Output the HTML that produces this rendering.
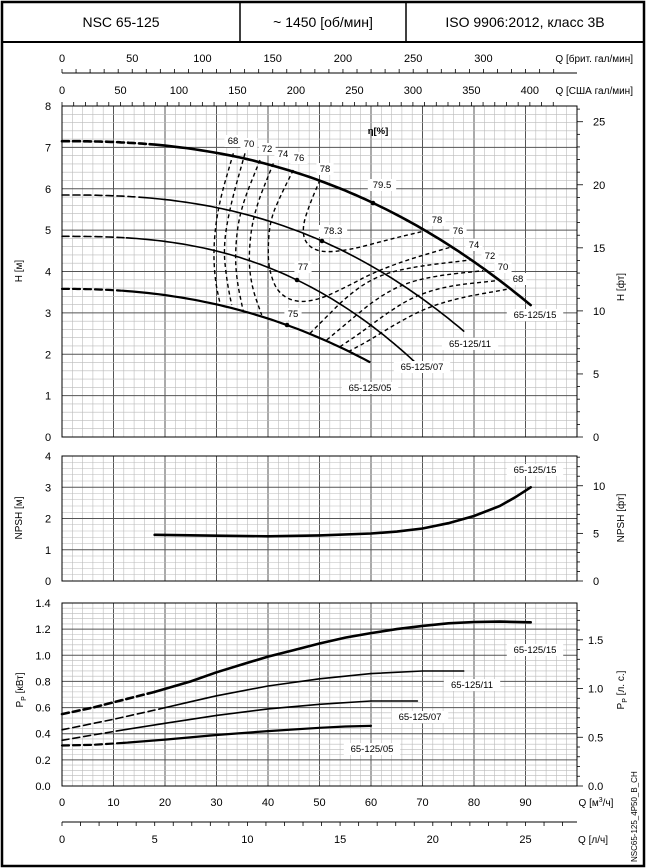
<!DOCTYPE html>
<html><head><meta charset="utf-8"><style>
body{margin:0;background:#fff}
svg{display:block;font-family:"Liberation Sans",sans-serif}
</style></head><body>
<svg id="s" width="646" height="868" xmlns="http://www.w3.org/2000/svg"></svg>
<script>
const S=document.getElementById('s');let h='';
const X0=62,PX=5.15,X1=577;
const qx=q=>X0+q*PX;
function ln(x1,y1,x2,y2,c,w,d){h+=`<line x1="${x1}" y1="${y1}" x2="${x2}" y2="${y2}" stroke="${c}" stroke-width="${w}"${d?` stroke-dasharray="${d}"`:''}/>`;}
function tx(x,y,t,o){o=o||{};h+=`<text x="${x}" y="${y}" font-size="${o.fs||11}" text-anchor="${o.a||'middle'}"${o.b?' font-weight="bold"':''}${o.r?` transform="rotate(-90 ${x} ${y})"`:''}>${t}</text>`;}
function lbl(x,y,t){let w=t.length*5.6+6;h+=`<rect x="${x-w/2}" y="${y-9}" width="${w}" height="12" fill="#fff"/>`;tx(x,y,t,{fs:9.5});}
function grid(yt,yb,nMaj,nMin){
 for(let q=0;q<=100;q+=2){ln(qx(q),yt,qx(q),yb,q%10==0?'#555':'#bbb',q%10==0?1:0.6);}
 const n=nMaj*nMin;for(let i=0;i<=n;i++){let y=yt+(yb-yt)*i/n;ln(X0,y,X1,y,i%nMin==0?'#555':'#bbb',i%nMin==0?1:0.6);}
 h+=`<rect x="${X0}" y="${yt}" width="${X1-X0}" height="${yb-yt}" fill="none" stroke="#000" stroke-width="1"/>`;
}
function path(pts,w,d){h+=`<path d="M${pts.map(p=>p[0].toFixed(1)+','+p[1].toFixed(1)).join(' L')}" fill="none" stroke="#000" stroke-width="${w}" stroke-linecap="round"${d?` stroke-dasharray="${d}"`:''}/>`;}
h+=`<rect x="2" y="2" width="642" height="864" fill="none" stroke="#000" stroke-width="2.5"/>`;
ln(2,42,644,42,'#000',2);ln(240,2,240,42,'#000',1.5);ln(406,2,406,42,'#000',1.5);
tx(121,27,'NSC 65-125',{fs:14});tx(323,27,'~ 1450 [об/мин]',{fs:14});tx(525,27,'ISO 9906:2012, класс 3B',{fs:14});
ln(X0,73,X1,73,'#000',1);
for(let g=0;g<=350;g+=10){let x=qx(g/3.666);if(x<=X1)ln(x,73,x,69,'#000',0.8);}
for(let g=0;g<=300;g+=50)tx(qx(g/3.666),62,g);
tx(633,62,'Q [брит. гал/мин]',{a:'end',fs:10});
for(let g=0;g<=420;g+=10){let x=qx(g/4.403);if(x<=X1)ln(x,106,x,102,'#000',0.8);}
for(let g=0;g<=400;g+=50)tx(qx(g/4.403),94,g);
tx(633,94,'Q [США гал/мин]',{a:'end',fs:10});
const HT=106,HB=437,hy=v=>HB-(HB-HT)*v/8;
grid(HT,HB,8,5);
for(let v=0;v<=8;v++)tx(48,hy(v)+4,v);
const fy=v=>HB-v*0.3048*(HB-HT)/8;
for(let f=0;f<=26;f++){ln(X1,fy(f),X1+(f%5==0?6:3),fy(f),'#000',0.8);}
for(let f=0;f<=25;f+=5)tx(593,fy(f)+4,f,{a:'start'});
tx(22,271,'H [м]',{r:1,fs:10});tx(624,287,'H [фт]',{r:1,fs:10});
// [H0, dH at Qr, Qr, p, Qend, Qdash, width]
const HC=[[7.15,1.5,60.5,2.38,91,17,2.6],[5.85,1.12,50.6,2.49,78,15,1.6],[4.85,1.06,45.7,2.6,69,12.5,1.6],[3.58,0.88,43.8,2.25,60,11.7,2.2]];
const Hf=(c,q)=>c[0]-c[1]*Math.pow(q/c[2],c[3]);
HC.forEach(c=>{let a=[],b=[];for(let q=0;q<=c[5];q+=0.5)a.push([qx(q),hy(Hf(c,q))]);for(let q=c[5];q<=c[4]+0.01;q+=1)b.push([qx(q),hy(Hf(c,q))]);path(a,c[6],'7,4');path(b,c[6]);});
const Z=p=>p.map(v=>[200+v[0]/3,120+v[1]/3]);
const E=[
[[100,100],[55,255],[40,380],[45,480],[60,550]],
[[135,100],[90,260],[70,380],[80,480],[95,555]],
[[180,120],[120,270],[105,390],[110,480],[130,575]],
[[220,130],[160,280],[145,410],[155,500],[185,585]],
[[280,150],[245,220],[210,300],[203,400],[210,460],[235,520],[290,548],[360,538],[440,500],[520,458],[620,420],[750,382]],
[[360,180],[330,250],[307,320],[315,370],[360,398],[450,390],[560,360],[665,335]],
[[330,640],[380,590],[440,530],[520,473],[620,443],[810,420]],
[[380,660],[440,610],[520,543],[600,495],[700,468],[850,452]],
[[420,680],[480,640],[560,580],[640,530],[740,498],[890,482]],
[[445,695],[510,660],[590,610],[680,563],[780,533],[920,508]]];
E.forEach(e=>{let p=Z(e);let d=`M${p[0][0]},${p[0][1]}`;for(let i=1;i<p.length;i++){let m=[(p[i-1][0]+p[i][0])/2,(p[i-1][1]+p[i][1])/2];d+=` Q${p[i-1][0]},${p[i-1][1]} ${m[0]},${m[1]}`;}d+=` L${p[p.length-1][0]},${p[p.length-1][1]}`;h+=`<path d="${d}" fill="none" stroke="#000" stroke-width="1.4" stroke-dasharray="4,3"/>`;});
[[373,203],[322,241],[297,280],[287,325]].forEach(p=>h+=`<circle cx="${p[0]}" cy="${p[1]}" r="2.3"/>`);
[[233,144,'68'],[249,147,'70'],[267,152,'72'],[283,157,'74'],[299,161,'76'],[325,172,'78'],[382,188,'79.5'],[333,234,'78.3'],[303,270,'77'],[293,317,'75'],[437,223,'78'],[458,234,'76'],[474,248,'74'],[490,259,'72'],[503,270,'70'],[518,282,'68'],
[535,318,'65-125/15'],[470,347,'65-125/11'],[422,370,'65-125/07'],[370,391,'65-125/05']].forEach(l=>lbl(l[0],l[1],l[2]));
tx(378,134,'η[%]',{b:1,fs:9.5});
const NT=456,NB=581,ny=v=>NB-(NB-NT)*v/4;
grid(NT,NB,4,5);
for(let v=0;v<=4;v++)tx(48,ny(v)+4,v);
const nf=v=>NB-v*0.3048*(NB-NT)/4;
for(let f=0;f<=13;f++)ln(X1,nf(f),X1+(f%5==0?6:3),nf(f),'#000',0.8);
for(let f=0;f<=10;f+=5)tx(593,nf(f)+4,f,{a:'start'});
tx(22,518,'NPSH [м]',{r:1,fs:10});tx(624,518,'NPSH [фт]',{r:1,fs:10});
const NP=[[18,1.48],[30,1.45],[40,1.43],[50,1.46],[60,1.52],[65,1.58],[70,1.68],[75,1.85],[80,2.08],[85,2.4],[88,2.68],[91,3.0]];
path(NP.map(p=>[qx(p[0]),ny(p[1])]),2.6);
lbl(535,473,'65-125/15');
const PT=603,PB=786,py=v=>PB-(PB-PT)*v/1.4;
grid(PT,PB,7,5);
for(let v=0;v<=7;v++)tx(43,py(v*0.2)+4,(v*0.2).toFixed(1));
const hf=v=>PB-v*0.7457*(PB-PT)/1.4;
for(let f=0;f<=18;f++)ln(X1,hf(f/10),X1+(f%5==0?6:3),hf(f/10),'#000',0.8);
for(let f=0;f<=3;f++)tx(588,hf(f*0.5)+4,(f*0.5).toFixed(1),{a:'start'});
h+=`<text x="23" y="690" font-size="10" transform="rotate(-90 23 690)" text-anchor="middle">P<tspan font-size="7" dy="3">P</tspan><tspan dy="-3"> [кВт]</tspan></text>`;
h+=`<text x="624" y="690" font-size="10" transform="rotate(-90 624 690)" text-anchor="middle">P<tspan font-size="7" dy="3">P</tspan><tspan dy="-3"> [л. с.]</tspan></text>`;
const PC=[
[[[0,0.55],[6,0.60],[12,0.66],[18,0.72]],[[18,0.72],[25,0.80],[30,0.87],[35,0.93],[40,0.99],[45,1.04],[50,1.09],[55,1.135],[60,1.17],[65,1.2],[70,1.225],[75,1.245],[80,1.255],[85,1.258],[91,1.252]],2.6],
[[[0,0.43],[10,0.51],[19,0.59]],[[19,0.59],[25,0.645],[30,0.69],[40,0.765],[50,0.82],[60,0.86],[70,0.88],[78,0.88]],1.6],
[[[0,0.35],[6,0.39],[12,0.43]],[[12,0.43],[20,0.48],[30,0.54],[40,0.59],[50,0.625],[60,0.65],[69,0.65]],1.6],
[[[0,0.31],[6,0.315],[12,0.33]],[[12,0.33],[20,0.355],[30,0.39],[40,0.42],[50,0.445],[55,0.455],[60,0.46]],2.2]];
PC.forEach(c=>{path(c[0].map(p=>[qx(p[0]),py(p[1])]),c[2],'7,4');path(c[1].map(p=>[qx(p[0]),py(p[1])]),c[2]);});
lbl(535,653,'65-125/15');lbl(472,688,'65-125/11');lbl(420,720,'65-125/07');lbl(372,752,'65-125/05');
for(let q=0;q<=90;q+=10)tx(qx(q),806,q);
h+=`<text x="596" y="806" font-size="10" text-anchor="middle">Q [м<tspan font-size="7" dy="-4">3</tspan><tspan dy="4">/ч]</tspan></text>`;
ln(X0,822,X1,822,'#000',1);
for(let l=0;l<=27;l++){let x=qx(l*3.6);if(x<=X1)ln(x,822,x,826,'#000',0.8);}
for(let l=0;l<=25;l+=5)tx(qx(l*3.6),843,l);
tx(593,843,'Q [л/ч]',{fs:10});
h+=`<text x="637" y="862" font-size="8" transform="rotate(-90 637 862)">NSC65-125_4P50_B_CH</text>`;
S.innerHTML=h;
</script>
</body></html>
